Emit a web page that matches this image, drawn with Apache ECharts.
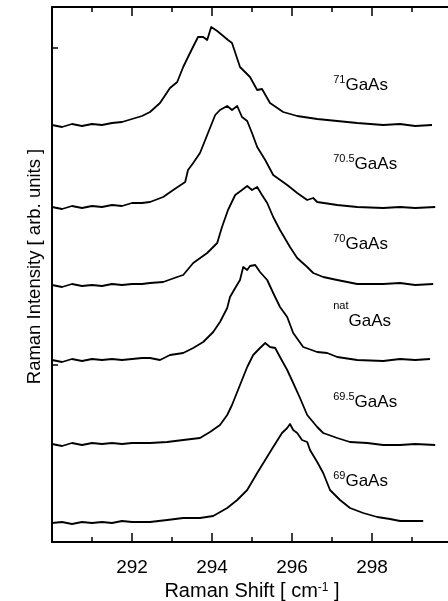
<!DOCTYPE html>
<html><head><meta charset="utf-8">
<script src="https://cdn.jsdelivr.net/npm/echarts@6/dist/echarts.min.js"></script>
<style>html,body{margin:0;padding:0;background:#fff}#c{width:448px;height:601px}</style>
</head><body><div id="c"></div>
<script>
// Raman shift (cm^-1) vs. stacked intensity (arb. units)
const xTickLabels = [292, 294, 296, 298];
const yTickValues = [177, 494];

const ga71 = [[290.00,417],[290.25,415],[290.50,418],[290.75,416],[291.00,418],[291.25,417],[291.50,419],[291.75,420],[292.00,423],[292.25,426],[292.45,430],[292.70,439],[292.95,454],[293.13,460],[293.28,475],[293.45,489],[293.65,505],[293.78,505],[293.88,502],[293.98,515],[294.13,511],[294.40,502],[294.50,499],[294.70,475],[294.95,465],[295.13,452],[295.25,453],[295.45,439],[295.78,430],[296.13,426],[296.63,423],[297.13,421],[297.63,419],[298.28,417],[298.70,418],[299.08,416],[299.50,417]];
const ga705 = [[290.00,335],[290.25,333],[290.50,336],[290.75,334],[291.00,336],[291.25,335],[291.50,337],[291.75,336],[292.00,339],[292.25,339],[292.45,340],[292.78,345],[293.03,352],[293.33,360],[293.40,372],[293.53,379],[293.70,389],[293.83,402],[293.95,414],[294.08,427],[294.20,432],[294.38,436],[294.50,432],[294.63,436],[294.75,425],[294.88,421],[295.00,409],[295.13,395],[295.33,382],[295.53,367],[295.88,357],[296.13,349],[296.38,342],[296.53,344],[296.63,340],[297.13,337],[297.63,335],[298.28,334],[298.70,335],[299.08,334],[299.58,335]];
const ga70 = [[290.00,257],[290.25,255],[290.50,258],[290.75,256],[291.00,257],[291.25,256],[291.50,258],[291.75,257],[292.00,258],[292.25,258],[292.45,259],[292.78,260],[293.13,265],[293.28,267],[293.53,279],[293.88,289],[294.13,299],[294.25,315],[294.40,332],[294.58,347],[294.75,352],[294.88,356],[295.00,352],[295.13,355],[295.25,347],[295.38,339],[295.53,325],[295.70,312],[295.95,295],[296.13,284],[296.38,275],[296.53,269],[296.78,265],[297.13,262],[297.63,258],[298.28,258],[298.70,259],[299.08,257],[299.53,258]];
const gaNat = [[290.00,182],[290.25,180],[290.50,183],[290.75,181],[291.00,183],[291.25,182],[291.50,183],[291.75,182],[292.00,183],[292.25,184],[292.45,184],[292.70,182],[292.95,187],[293.28,189],[293.53,194],[293.78,200],[294.03,210],[294.20,220],[294.38,234],[294.45,245],[294.58,254],[294.70,262],[294.78,275],[294.88,272],[294.95,276],[295.08,277],[295.20,270],[295.38,262],[295.53,249],[295.70,235],[295.88,225],[296.03,209],[296.28,195],[296.63,190],[296.88,189],[297.13,185],[297.63,182],[298.28,181],[298.70,183],[299.08,182],[299.45,183]];
const ga695 = [[290.00,98],[290.25,96],[290.50,99],[290.75,97],[291.00,99],[291.25,98],[291.50,99],[291.75,98],[292.00,99],[292.45,99],[292.88,100],[293.28,102],[293.70,104],[293.95,110],[294.20,117],[294.38,127],[294.50,137],[294.65,152],[294.88,175],[295.03,187],[295.20,194],[295.33,199],[295.45,195],[295.58,194],[295.70,185],[295.88,172],[296.03,159],[296.20,144],[296.38,127],[296.63,115],[296.78,109],[297.13,104],[297.45,100],[297.88,99],[298.28,97],[298.70,97],[299.08,98],[299.58,97]];
const ga69 = [[290.00,19],[290.25,20],[290.50,18],[290.75,20],[291.00,19],[291.25,20],[291.50,19],[291.75,21],[292.00,20],[292.45,20],[292.88,22],[293.28,24],[293.70,24],[294.03,26],[294.38,34],[294.63,42],[294.88,52],[295.13,69],[295.33,82],[295.53,95],[295.75,109],[295.88,114],[295.95,118],[296.03,112],[296.13,109],[296.25,102],[296.38,100],[296.45,92],[296.63,80],[296.78,69],[296.95,52],[297.20,42],[297.45,34],[297.78,29],[298.13,25],[298.45,23],[298.70,21],[299.00,21],[299.28,21]];

const spectra = [ga71, ga705, ga70, gaNat, ga695, ga69];
const isotopes = ['71', '70.5', '70', 'nat', '69.5', '69'];

const FONT = 'Liberation Sans, Arial, Helvetica, sans-serif';
// label anchors (data coords of top-left of label box)
const labelAnchor = [[297.03,468],[297.03,389],[297.03,309],[297.03,242],[297.03,151],[297.03,72]];

const chart = echarts.init(document.getElementById('c'), null, {renderer: 'canvas'});

const axisCommon = {
  type: 'value', min: 290, max: 300, interval: 2,
  axisLine: {show: true, onZero: false, lineStyle: {color: '#000', width: 2}},
  axisTick: {show: true, inside: true, length: 9, lineStyle: {color: '#000', width: 1.5}},
  minorTick: {show: true, splitNumber: 2, length: 5, lineStyle: {color: '#000', width: 1.5}},
  splitLine: {show: false}, minorSplitLine: {show: false}
};

const series = spectra.map((d, i) => ({
  type: 'line', data: d, showSymbol: false, symbol: 'none', silent: true,
  lineStyle: {color: '#000', width: 1.8, join: 'round'},
  clip: false,
  markPoint: {
    silent: true, symbol: 'circle', symbolSize: 0,
    data: [{coord: labelAnchor[i]}],
    label: {
      show: true, position: [0, 0], align: 'left', verticalAlign: 'top',
      formatter: isotopes[i] === 'nat' ? '{s|nat}{n|GaAs}' : '{s|' + isotopes[i] + '}{g|GaAs}',
      rich: {
        s: {fontFamily: FONT, fontSize: 11, color: '#000', lineHeight: 11, verticalAlign: 'top'},
        g: {fontFamily: FONT, fontSize: 17, color: '#000', lineHeight: 20, verticalAlign: 'bottom'},
        n: {fontFamily: FONT, fontSize: 17, color: '#000', lineHeight: 30, verticalAlign: 'bottom'}
      }
    }
  }
}));

chart.setOption({
  animation: false,
  backgroundColor: '#fff',
  grid: {left: 52, top: 7, width: 400, height: 535, containLabel: false, outerBoundsMode: 'none'},
  xAxis: [
    Object.assign({}, axisCommon, {
      position: 'bottom',
      name: 'Raman Shift [ cm{sup|-1} ]', nameLocation: 'middle', nameGap: 31,
      nameTextStyle: {fontFamily: FONT, fontSize: 20, color: '#000', verticalAlign: 'top',
        rich: {sup: {fontFamily: FONT, fontSize: 12, color: '#000', verticalAlign: 'top', lineHeight: 12}}},
      axisLabel: {show: true, margin: 16, fontFamily: FONT, fontSize: 19, color: '#000',
        formatter: v => xTickLabels.includes(v) ? String(v) : ''}
    }),
    Object.assign({}, axisCommon, {position: 'top', axisLabel: {show: false}})
  ],
  yAxis: {
    type: 'value', min: 0, max: 535,
    axisLine: {show: true, onZero: false, lineStyle: {color: '#000', width: 2}},
    axisTick: {show: true, inside: true, length: 6, customValues: yTickValues, lineStyle: {color: '#000', width: 1.5}},
    axisLabel: {show: false},
    splitLine: {show: false},
    name: 'Raman Intensity [ arb. units ]', nameLocation: 'middle', nameGap: 8, nameRotate: 90,
    nameTextStyle: {fontFamily: FONT, fontSize: 18.5, color: '#000', padding: [0, 0, 0, 16]}
  },
  series: series
});
</script>
</body></html>
